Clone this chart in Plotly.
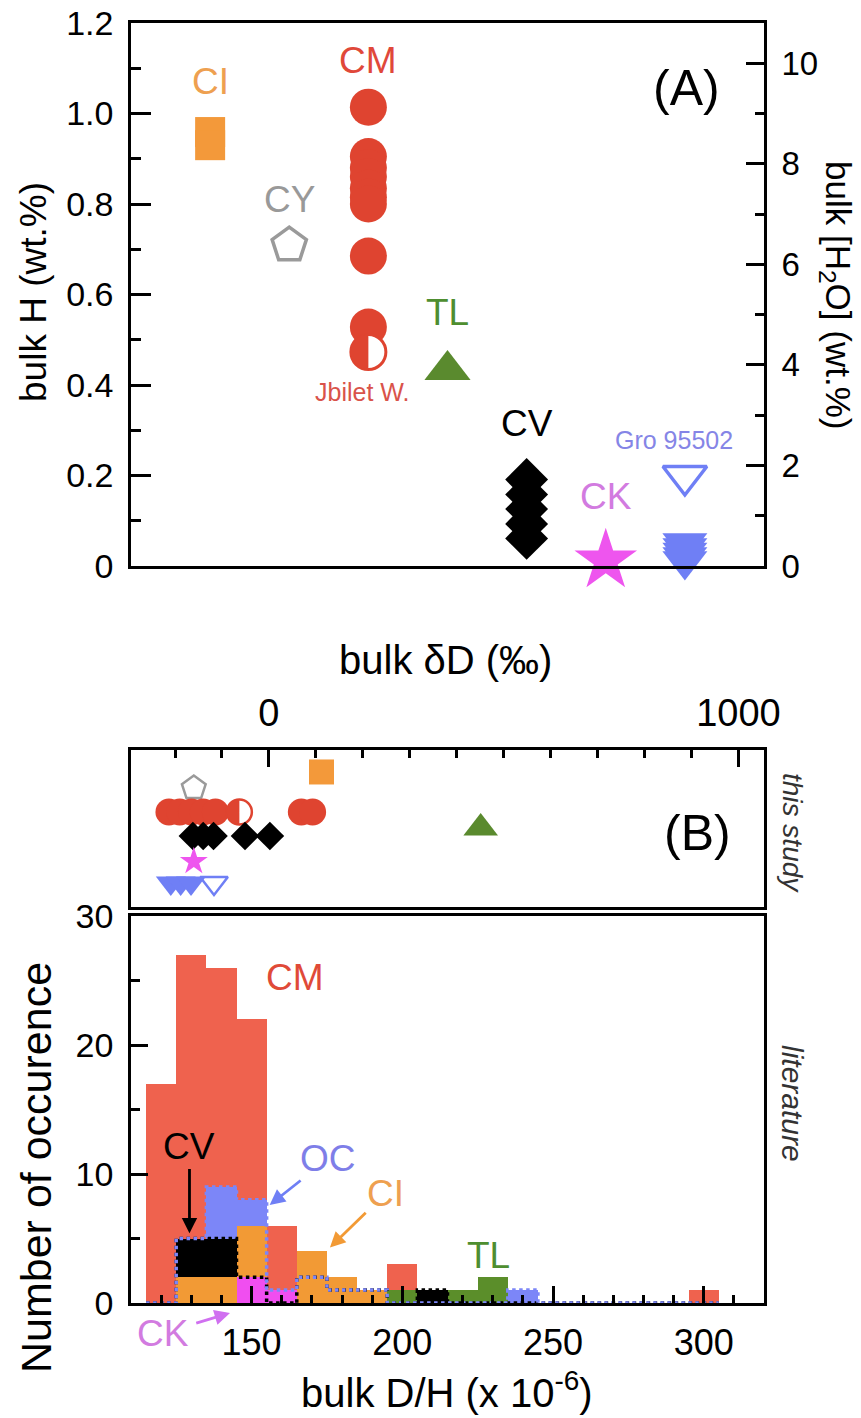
import numpy as np
import plotly.graph_objects as go

W, H = 861, 1418
VSMOW = 155.76  # D/H (x1e-6) of VSMOW, links delta-D and D/H axes

# ---------------- Panel A: bulk H (wt.%) per group ----------------
groups_A = ["CI", "CY", "CM", "TL", "CV", "CK", "OC"]
H_CI = [0.959, 0.930]
H_CY = [0.709]
H_CM = [1.014, 0.905, 0.88, 0.86, 0.835, 0.815, 0.80, 0.685, 0.528]
H_JBILET = [0.473]
H_TL = [0.433]
H_CV = [0.191, 0.158, 0.126, 0.093, 0.061]
H_CK = [0.012]
H_GRO = [0.199]
H_OC = [0.051, 0.040, 0.030, 0.020, 0.011]

# ---------------- Panel B (this study): bulk delta-D (permil) ----------------
dD_CI = [112]
dD_CY = [-160]
dD_CM = [-213, -190, -165, -140, -114, 69, 93]
dD_JBILET = [-63]
dD_TL = [451]
dD_CV = [-162, -140, -118, -51, 2]
dD_CK = [-160]
dD_OC = [-209, -188, -166]
dD_GRO = [-117]

# ---------------- Panel B (literature): histogram counts, bins of 10 ----------------
bin_centers = [120, 130, 140, 150, 160, 170, 180, 190, 200, 210,
               220, 230, 240, 250, 260, 270, 280, 290, 300]
n_CM = [17, 27, 26, 22, 6, 0, 0, 0, 3, 1, 0, 0, 0, 0, 0, 0, 0, 0, 1]
n_OC = [0, 5, 9, 8, 1, 2, 1, 1, 0, 0, 0, 0, 1, 0, 0, 0, 0, 0, 0]
n_TL = [0, 0, 0, 0, 0, 0, 0, 0, 1, 0, 1, 2, 0, 0, 0, 0, 0, 0, 0]
n_CV = [0, 5, 5, 2, 0, 2, 1, 1, 0, 1, 0, 0, 0, 0, 0, 0, 0, 0, 0]
n_CI = [0, 2, 2, 6, 0, 4, 2, 1, 0, 0, 0, 0, 0, 0, 0, 0, 0, 0, 0]
n_CK = [0, 0, 0, 2, 1, 0, 0, 0, 0, 0, 0, 0, 0, 0, 0, 0, 0, 0, 0]
BIN_W = 10

DH_RANGE = [110, 320]
H_TICKS = [0, 0.2, 0.4, 0.6, 0.8, 1.0, 1.2]
H_TICKTEXT = ["0", "0.2", "0.4", "0.6", "0.8", "1.0", "1.2"]
H2O_TICKS = [0, 2, 4, 6, 8, 10]
DD_TICKS = [0, 1000]
DH_TICKS = [150, 200, 250, 300]
COUNT_TICKS = [0, 10, 20, 30]

# ---------------- styles / layout positions ----------------
FONT = "Liberation Sans, Arial, Helvetica, sans-serif"
GX = {g: i + 1 for i, g in enumerate(groups_A)}   # category slots in panel A
ROW_Y = {"CI": 0.860, "CY": 0.758, "CM": 0.605, "TL": 0.503,
         "CV": 0.452, "CK": 0.290, "OC": 0.153}   # rows in the 'this study' strip

C_CI, C_CY, C_CM, C_TL = "#F3993A", "#9A9A9A", "#DF4430", "#5A8A2E"
C_CV, C_CK, C_OC = "#000000", "#EE55EE", "#6F7FF5"
HC = {"CM": "#EF624E", "OC": "#7C86F8", "TL": "#5B8E2A", "CV": "#000000",
      "CI": "#F29A35", "CK": "#F04EF0"}

X_DOM = [131 / W, 764 / W]
def ydom(top, bot):
    return [1 - bot / H, 1 - top / H]

fig = go.Figure()

def sc(x, y, xa, ya, symbol, size, color, line_color=None, line_width=0):
    fig.add_trace(go.Scatter(
        x=x, y=y, xaxis=xa, yaxis=ya, mode="markers", cliponaxis=False,
        marker=dict(symbol=symbol, size=size, color=color,
                    line=dict(color=line_color or color, width=line_width)),
        showlegend=False, hoverinfo="skip"))

# ---- Panel A ----
sc([GX["CI"]] * len(H_CI), H_CI, "x", "y", "square", 30, C_CI)
sc([GX["CY"]] * len(H_CY), H_CY, "x", "y", "pentagon-open", 36, C_CY, C_CY, 3.5)
sc([GX["CM"]] * len(H_CM), H_CM, "x", "y", "circle", 37, C_CM)
sc([GX["CM"]] * len(H_JBILET), H_JBILET, "x", "y", "circle", 35, "white", C_CM, 3)
sc([GX["TL"]] * len(H_TL), H_TL, "x", "y", "triangle-up", 40, C_TL)
sc([GX["CV"]] * len(H_CV), H_CV, "x", "y", "diamond", 33, C_CV)
sc([GX["CK"]] * len(H_CK), H_CK, "x", "y", "star", 47, C_CK)
sc([GX["OC"]] * len(H_GRO), H_GRO, "x", "y", "triangle-down-open", 38, C_OC, C_OC, 3.5)
sc([GX["OC"]] * len(H_OC), H_OC, "x", "y", "triangle-down", 39, C_OC)
fig.add_trace(go.Scatter(x=[None], y=[None], xaxis="x", yaxis="y2",
                         showlegend=False, hoverinfo="skip"))

# ---- Panel B strip (this study) ----
sc(dD_CY, [ROW_Y["CY"]] * len(dD_CY), "x2", "y3", "pentagon-open", 25, C_CY, C_CY, 2.5)
sc(dD_CI, [ROW_Y["CI"]] * len(dD_CI), "x2", "y3", "square", 25, C_CI)
sc(dD_CM, [ROW_Y["CM"]] * len(dD_CM), "x2", "y3", "circle", 27, C_CM)
sc(dD_JBILET, [ROW_Y["CM"]] * len(dD_JBILET), "x2", "y3", "circle", 25, "white", C_CM, 2.5)
sc(dD_TL, [ROW_Y["TL"]] * len(dD_TL), "x2", "y3", "triangle-up", 30, C_TL)
sc(dD_CV, [ROW_Y["CV"]] * len(dD_CV), "x2", "y3", "diamond", 22, C_CV)
sc(dD_CK, [ROW_Y["CK"]] * len(dD_CK), "x2", "y3", "star", 21, C_CK)
sc(dD_OC, [ROW_Y["OC"]] * len(dD_OC), "x2", "y3", "triangle-down", 26, C_OC)
sc(dD_GRO, [ROW_Y["OC"]] * len(dD_GRO), "x2", "y3", "triangle-down-open", 24, C_OC, C_OC, 2.5)

# ---- Panel B histogram (literature) ----
for name, counts in [("CM", n_CM), ("OC", n_OC), ("TL", n_TL),
                     ("CV", n_CV), ("CI", n_CI), ("CK", n_CK)]:
    fig.add_trace(go.Bar(x=bin_centers, y=counts, width=BIN_W, xaxis="x3", yaxis="y4",
                         marker=dict(color=HC[name], line=dict(width=0)), opacity=1,
                         showlegend=False, hoverinfo="skip"))

def step_outline(counts):
    edges = [c - BIN_W / 2 for c in bin_centers] + [bin_centers[-1] + BIN_W / 2]
    xs = [edges[0]] + edges
    ys = [0] + list(counts) + [0]
    return xs, ys

for name, counts in [("CV", n_CV), ("OC", n_OC)]:
    xs, ys = step_outline(counts)
    fig.add_trace(go.Scatter(x=xs, y=ys, xaxis="x3", yaxis="y4", mode="lines",
                             line=dict(shape="hv", dash="dot", width=3.5, color=HC[name]),
                             showlegend=False, hoverinfo="skip"))

# ---- half-filled marker (Jbilet Winselwan) ----
def half_disk(r, n=30):
    pts = [(-r * np.sin(t), r * np.cos(t)) for t in np.linspace(0, np.pi, n)]
    return "M " + " L ".join(f"{a:.2f},{b:.2f}" for a, b in pts) + " Z"

shapes = [
    dict(type="path", xref="x", yref="y", xsizemode="pixel", ysizemode="pixel",
         xanchor=GX["CM"], yanchor=H_JBILET[0], path=half_disk(17.5),
         fillcolor=C_CM, line=dict(width=0), layer="above"),
    dict(type="path", xref="x2", yref="y3", xsizemode="pixel", ysizemode="pixel",
         xanchor=dD_JBILET[0], yanchor=ROW_Y["CM"], path=half_disk(12.5),
         fillcolor=C_CM, line=dict(width=0), layer="above"),
]

# ---------------- annotations ----------------
def P(x, y):
    return x / W, 1 - y / H

ann = []
def txt_paper(text, x, y, size, color="black", angle=0, italic=False):
    px, py = P(x, y)
    ann.append(dict(text=text, x=px, y=py, xref="paper", yref="paper",
                    showarrow=False, textangle=angle, xanchor="center", yanchor="middle",
                    font=dict(size=size, color=color, family=FONT,
                              style="italic" if italic else "normal")))

def txt_data(text, x, y, xr, yr, size, color):
    ann.append(dict(text=text, x=x, y=y, xref=xr, yref=yr, showarrow=False,
                    xanchor="center", yanchor="middle",
                    font=dict(size=size, color=color, family=FONT)))

def label_arrow(text, tx, ty, x, y, size, tcolor, acolor, standoff=0):
    # label sits at (tx, ty); arrow points from it to (x, y)
    ann.append(dict(text=text, x=x, y=y, ax=tx, ay=ty, xref="x3", yref="y4",
                    axref="x3", ayref="y4", showarrow=True, arrowhead=2,
                    arrowsize=1.1, arrowwidth=2.8, arrowcolor=acolor,
                    startstandoff=standoff,
                    font=dict(size=size, color=tcolor, family=FONT)))

# Panel A group labels
txt_data("CI", GX["CI"], 1.07, "x", "y", 37, "#EEA050")
txt_data("CY", GX["CY"], 0.81, "x", "y", 37, "#999999")
txt_data("CM", GX["CM"], 1.118, "x", "y", 37, "#E0483A")
txt_data("TL", GX["TL"], 0.561, "x", "y", 37, "#4E8E30")
txt_data("CV", GX["CV"], 0.316, "x", "y", 37, "#000000")
txt_data("CK", GX["CK"], 0.153, "x", "y", 37, "#D27BE0")
txt_data("OC", GX["OC"], -0.097, "x", "y", 37, "#7E7EE8")
txt_data("Jbilet W.", 2.915, 0.385, "x", "y", 25, "#D9534A")
txt_data("Gro 95502", 6.864, 0.278, "x", "y", 25, "#8585E6")
txt_paper("(A)", 686, 88, 50)
txt_paper("(B)", 697, 833, 50)

# axis titles
txt_paper("bulk H (wt.%)", 33, 292, 37, angle=-90)
txt_paper("bulk [H<sub>2</sub>O] (wt.%)", 836, 295, 35, angle=90)
txt_paper("bulk δD (‰)", 446, 660, 40)
txt_paper("Number of occurence", 36, 1168, 43, angle=-90)
txt_paper("bulk D/H (x 10<sup>-6</sup>)", 447, 1390, 40)
txt_paper("this study", 793, 833, 28, color="#333333", angle=90, italic=True)
txt_paper("literature", 793, 1103, 30, color="#333333", angle=90, italic=True)

# histogram labels and arrows
txt_data("CM", 164.3, 25.2, "x3", "y4", 37, "#E04A38")
label_arrow("CV", 129.4, 12.1, 129.4, 5.4, 37, "#000000", "#000000")
label_arrow("OC", 175.5, 11.2, 156.0, 7.6, 37, "#7E7EE8", "#6F7FF5")
label_arrow("CI", 194.5, 8.5, 176.0, 4.3, 37, "#EEA050", "#F29A35")
txt_data("TL", 228.5, 3.7, "x3", "y4", 37, "#4E8E30")

# CK label sits below the histogram axis (outside its range) -> paper coordinates
ck_tip = P(230, 1313)
ann.append(dict(text="CK", x=ck_tip[0], y=ck_tip[1], xref="paper", yref="paper",
                ax=163 - 230, ay=1333 - 1313, axref="pixel", ayref="pixel",
                showarrow=True, arrowhead=2, arrowsize=1.1, arrowwidth=2.8,
                arrowcolor="#D070F0", startstandoff=6,
                font=dict(size=37, color="#D27BE0", family=FONT)))

# ---------------- axes ----------------
LW = 2.6
base = dict(showgrid=False, zeroline=False, showline=True, linecolor="black",
            linewidth=LW, mirror=True, tickcolor="black", tickwidth=LW,
            automargin=False,
            tickfont=dict(size=34, family=FONT, color="black"))

vsmow_lo = (DH_RANGE[0] / VSMOW - 1) * 1000
vsmow_hi = (DH_RANGE[1] / VSMOW - 1) * 1000

fig.update_layout(
    template="none",
    width=W, height=H, margin=dict(l=0, r=0, t=0, b=0, pad=0, autoexpand=False),
    paper_bgcolor="white", plot_bgcolor="white", showlegend=False,
    barmode="overlay", bargap=0, font=dict(family=FONT),
    xaxis=dict(base, domain=X_DOM, anchor="y", range=[0, 8],
               showticklabels=False, ticks=""),
    yaxis=dict(base, domain=ydom(23, 566), anchor="x", range=[0, 1.2],
               tickvals=H_TICKS, ticktext=H_TICKTEXT, ticks="inside", ticklen=20,
               ticklabelstandoff=8,
               minor=dict(ticks="inside", ticklen=10, dtick=0.1, tick0=0,
                          tickcolor="black", tickwidth=LW, showgrid=False)),
    yaxis2=dict(base, overlaying="y", side="right", anchor="x", range=[0, 10.8],
                tickvals=H2O_TICKS, ticks="inside", ticklen=18, mirror=False,
                ticklabelstandoff=8,
                tickfont=dict(size=33, family=FONT, color="black"),
                minor=dict(ticks="inside", ticklen=9, dtick=1, tick0=0,
                           tickcolor="black", tickwidth=LW, showgrid=False)),
    xaxis2=dict(base, domain=X_DOM, anchor="y3", side="top",
                range=[vsmow_lo, vsmow_hi], tickvals=DD_TICKS, ticks="inside",
                ticklen=17, ticklabelstandoff=6,
                tickfont=dict(size=38, family=FONT, color="black"),
                minor=dict(ticks="inside", ticklen=8, dtick=100, tick0=0,
                           tickcolor="black", tickwidth=LW, showgrid=False)),
    yaxis3=dict(base, domain=ydom(750, 907), anchor="x2", range=[0, 1],
                showticklabels=False, ticks=""),
    xaxis3=dict(base, domain=X_DOM, anchor="y4", range=DH_RANGE,
                tickvals=DH_TICKS, ticks="inside", ticklen=17, ticklabelstandoff=6,
                tickfont=dict(size=36, family=FONT, color="black"),
                minor=dict(ticks="inside", ticklen=8, dtick=10, tick0=0,
                           tickcolor="black", tickwidth=LW, showgrid=False)),
    yaxis4=dict(base, domain=ydom(916, 1303), anchor="x3", range=[0, 30],
                tickvals=COUNT_TICKS, ticks="inside", ticklen=17, ticklabelstandoff=8,
                minor=dict(ticks="inside", ticklen=9, dtick=5, tick0=0,
                           tickcolor="black", tickwidth=LW, showgrid=False)),
    shapes=shapes, annotations=ann,
)

fig.write_html(
    "out.html",
    config={"displayModeBar": False},
    post_script=("document.body.style.margin='0px';"
                 "document.body.style.padding='0px';"
                 "document.body.style.overflow='hidden';"
                 "document.documentElement.style.overflow='hidden';"),
)
